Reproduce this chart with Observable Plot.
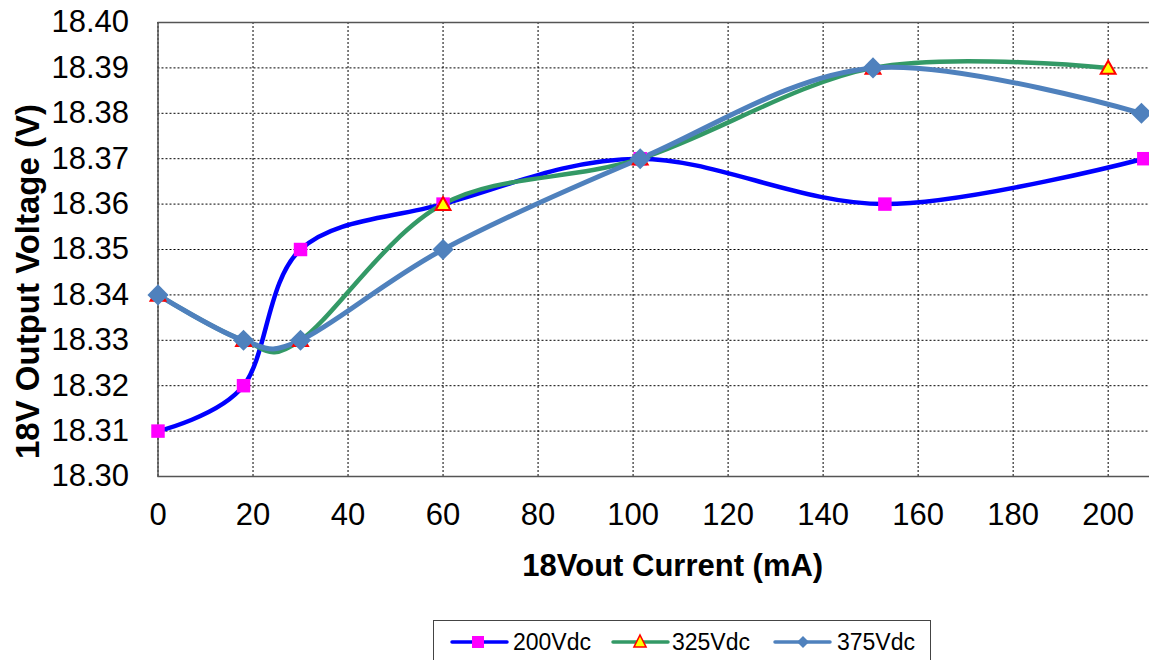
<!DOCTYPE html>
<html>
<head>
<meta charset="utf-8">
<script src="https://cdn.jsdelivr.net/npm/d3@7"></script>
<script src="https://cdn.jsdelivr.net/npm/@observablehq/plot@0.6"></script>
<style>
  html, body { margin: 0; padding: 0; background: #fff; overflow: hidden; }
  #wrap { position: relative; width: 1149px; height: 660px; }
  #legend { position: absolute; left: 433px; top: 620px; }
</style>
</head>
<body>
<div id="wrap"></div>
<script>
// ---- data ----
const seriesNames = ["200Vdc", "325Vdc", "375Vdc"];
const current200 = [0, 18, 30, 60, 101.5, 153, 207.5];
const volt200    = [18.31, 18.32, 18.35, 18.36, 18.37, 18.36, 18.37];
const current325 = [0, 18, 30, 60, 101.5, 150.5, 200];
const volt325    = [18.34, 18.33, 18.33, 18.36, 18.37, 18.39, 18.39];
const current375 = [0, 18, 30, 60, 101.5, 150.5, 207];
const volt375    = [18.34, 18.33, 18.33, 18.35, 18.37, 18.39, 18.38];
const xTicks = [0, 20, 40, 60, 80, 100, 120, 140, 160, 180, 200];
const yTicks = [18.30, 18.31, 18.32, 18.33, 18.34, 18.35, 18.36, 18.37, 18.38, 18.39, 18.40];
const xTitle = "18Vout Current (mA)";
const yTitle = "18V Output Voltage (V)";

const toRows = (xs, ys) => xs.map((x, i) => ({x, y: ys[i]}));
const d200 = toRows(current200, volt200);
const d325 = toRows(current325, volt325);
const d375 = toRows(current375, volt375);

const font = "'Liberation Sans', Arial, sans-serif";

const chart = Plot.plot({
  width: 1149,
  height: 620,
  marginTop: 22,
  marginLeft: 157.5,
  marginRight: 0,
  marginBottom: 144,
  style: {fontFamily: font, fontSize: "31px", color: "#000", background: "#fff", overflow: "visible"},
  x: {domain: [0, 208.7]},
  y: {domain: [18.30, 18.40]},
  marks: [
    Plot.gridX(xTicks, {stroke: "#000", strokeOpacity: 1, strokeWidth: 1, strokeDasharray: "2,2"}),
    Plot.gridY(yTicks, {stroke: "#000", strokeOpacity: 1, strokeWidth: 1, strokeDasharray: "2,2"}),
    Plot.ruleY([yTicks[0], yTicks[yTicks.length - 1]], {stroke: "#555", strokeWidth: 1.5}),
    Plot.ruleX([xTicks[0]], {stroke: "#555", strokeWidth: 1.5}),
    Plot.axisX({ticks: xTicks, tickSize: 0, tickPadding: 26, label: null, fontSize: 31}),
    Plot.axisY({ticks: yTicks, tickSize: 0, tickPadding: 29, label: null, fontSize: 31, tickFormat: d => d.toFixed(2)}),
    Plot.text([xTitle], {frameAnchor: "bottom", textAnchor: "middle", lineAnchor: "middle", dx: 19, dy: 90, fontSize: 31, fontWeight: "bold", fill: "#000"}),
    Plot.text([yTitle], {frameAnchor: "left", textAnchor: "middle", lineAnchor: "middle", rotate: -90, dx: -130, dy: 32, fontSize: 33, fontWeight: "bold", fill: "#000"}),
    Plot.line(d200, {x: "x", y: "y", curve: "cardinal", stroke: "#0000FF", strokeWidth: 4.5}),
    Plot.line(d325, {x: "x", y: "y", curve: "cardinal", stroke: "#339966", strokeWidth: 4.5}),
    Plot.line(d375, {x: "x", y: "y", curve: "cardinal", stroke: "#4F81BD", strokeWidth: 5}),
    Plot.dot(d200, {x: "x", y: "y", symbol: "square", r: 7.6, fill: "#FF00FF", stroke: "none"}),
    Plot.dot(d325, {x: "x", y: "y", symbol: "triangle", r: 5.5, dy: 1.5, fill: "#FFFF00", stroke: "#FF0000", strokeWidth: 2}),
    Plot.dot(d375, {x: "x", y: "y", symbol: "diamond2", r: 9.5, fill: "#4F81BD", stroke: "none"})
  ]
});
document.getElementById("wrap").appendChild(chart);

// ---- legend ----
const ns = "http://www.w3.org/2000/svg";
const legend = document.createElementNS(ns, "svg");
legend.setAttribute("id", "legend");
legend.setAttribute("width", 498);
legend.setAttribute("height", 45);
legend.style.fontFamily = font;
const items = [
  {name: seriesNames[0], color: "#0000FF", x0: 19, mx: 45, tx: 80, marker: "square"},
  {name: seriesNames[1], color: "#339966", x0: 180, mx: 207, tx: 239, marker: "triangle"},
  {name: seriesNames[2], color: "#4F81BD", x0: 342, mx: 370, tx: 404, marker: "diamond"}
];
let html = `<rect x="0.5" y="0.5" width="497" height="60" fill="#fff" stroke="#444" stroke-width="1"/>`;
for (const it of items) {
  html += `<line x1="${it.x0}" x2="${it.x0 + 55}" y1="22" y2="22" stroke="${it.color}" stroke-width="3.5" stroke-linecap="round"/>`;
  if (it.marker === "square") html += `<rect x="${it.mx - 6}" y="16" width="12" height="12" fill="#FF00FF"/>`;
  if (it.marker === "triangle") html += `<path d="M${it.mx},15 L${it.mx + 6},27 L${it.mx - 6},27 Z" fill="#FFFF00" stroke="#FF0000" stroke-width="1.6"/>`;
  if (it.marker === "diamond") html += `<path d="M${it.mx},16 L${it.mx + 6},22 L${it.mx},28 L${it.mx - 6},22 Z" fill="#4F81BD"/>`;
  html += `<text x="${it.tx}" y="22" dy="0.35em" font-size="23" fill="#000">${it.name}</text>`;
}
legend.innerHTML = html;
document.getElementById("wrap").appendChild(legend);
</script>
</body>
</html>
